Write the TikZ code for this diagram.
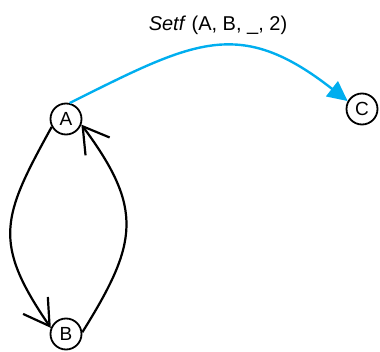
\documentclass[tikz,border=0pt]{standalone}
\usepackage{fontspec}
\setmainfont{Liberation Sans}
\usetikzlibrary{arrows.meta}
\definecolor{setfblue}{HTML}{00AEEF}

\begin{document}
\begin{tikzpicture}[x=1pt, y=1pt,
    state/.style={draw, circle, line width=1.8pt, minimum size=31pt, inner sep=0pt, font=\fontsize{19}{22}\selectfont},
    edge/.style={line width=2.2pt, -{Straight Barb[length=25pt, width=30pt]}},
    setf/.style={line width=2.4pt, setfblue, -{Triangle[length=20pt, width=19pt]}},
]
\useasboundingbox (0,0) rectangle (380,351);

% States
\node[state] (A) at (66, 232) {A};
\node[state] (B) at (66, 17) {B};
\node[state] (C) at (362, 242) {C};

% Label of the setf move
\node[font=\fontsize{20}{24}\selectfont] (lbl) at (218, 326) {\textit{Setf} (A, B, \_, 2)};

% --- Black loop between A and B ---
\draw[edge] (A.209) .. controls (2, 134) and (-8, 109) .. (B.158);
\draw[edge] (B.6) .. controls (138, 108) and (144, 142) .. (A.340);

% --- Blue move from A to C ---
\draw[setf] (A.77) .. controls (194, 310) and (239, 335) .. (C.151);

\end{tikzpicture}
\end{document}
